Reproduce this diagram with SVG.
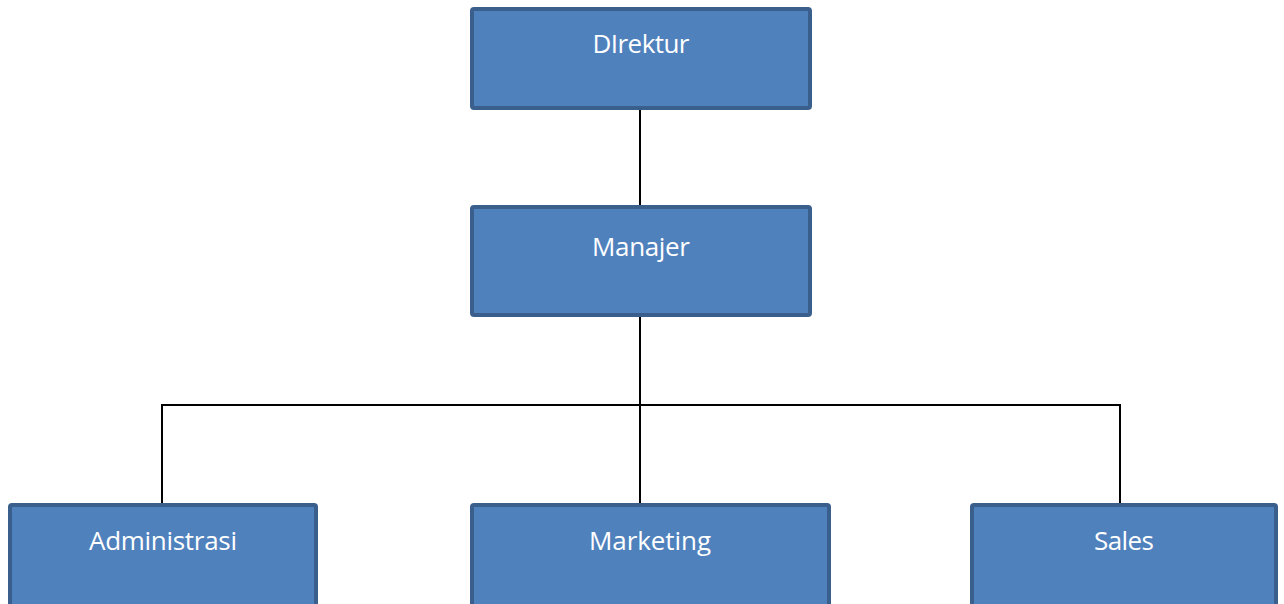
<svg xmlns="http://www.w3.org/2000/svg" width="1284" height="604" viewBox="0 0 1284 604">
<style>
.box{fill:#4F81BD;stroke:#3A5F8C;stroke-width:4}
.lbl{font-family:"Open Sans","Noto Sans","Liberation Sans",sans-serif;font-size:26px;fill:#FFFFFF;text-anchor:middle}
.conn{fill:none;stroke:#000000;stroke-width:2}
</style>
<rect width="1284" height="604" fill="#FFFFFF"/>
<g id="connectors">
<line class="conn" x1="640" y1="110" x2="640" y2="205"/>
<line class="conn" x1="640" y1="317" x2="640" y2="503"/>
<polyline class="conn" points="162,503 162,405 1120,405 1120,503"/>
</g>
<g id="direktur">
<rect class="box" x="472" y="9" width="338" height="99" rx="2"/>
<text class="lbl" x="641" y="53" textLength="97">DIrektur</text>
</g>
<g id="manajer">
<rect class="box" x="472" y="207" width="338" height="108" rx="2"/>
<text class="lbl" x="641" y="256" textLength="98">Manajer</text>
</g>
<g id="administrasi">
<rect class="box" x="10" y="505" width="306" height="120" rx="2"/>
<text class="lbl" x="163" y="550" textLength="148">Administrasi</text>
</g>
<g id="marketing">
<rect class="box" x="472" y="505" width="357" height="120" rx="2"/>
<text class="lbl" x="650" y="550" textLength="122">Marketing</text>
</g>
<g id="sales">
<rect class="box" x="972" y="505" width="304" height="120" rx="2"/>
<text class="lbl" x="1124" y="550" textLength="60">Sales</text>
</g>
</svg>
